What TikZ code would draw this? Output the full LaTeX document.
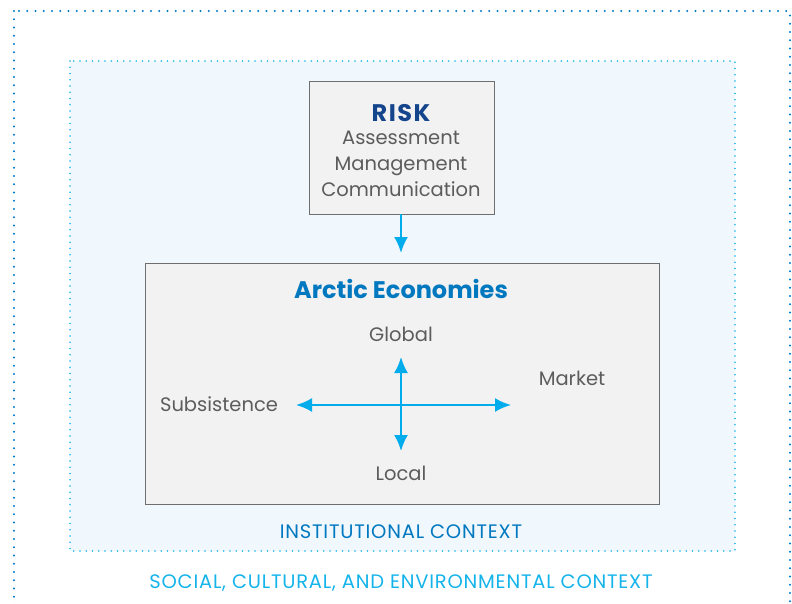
\documentclass[tikz,border=0pt]{standalone}
\usepackage{fontspec}
\usetikzlibrary{arrows.meta}
\setmainfont{Poppins}
\begin{document}
\begin{tikzpicture}[x=1pt, y=-1pt, font=\fontsize{19.5}{22}\selectfont,
  txt/.style={text=textgray, inner sep=1pt, text height=15.5pt, text depth=2pt},
  capstxt/.style={font=\fontsize{19.5}{22}\selectfont\addfontfeature{LetterSpace=4}},
  title/.style={font=\fontsize{24}{28}\selectfont\bfseries},
  cross/.style={draw=arrowblue, line width=2.2pt, -{Latex[length=16pt,width=14pt]}}]
\definecolor{textgray}{RGB}{92,92,92}
\definecolor{boxgray}{RGB}{242,242,242}
\definecolor{linegray}{RGB}{110,110,110}
\definecolor{arrowblue}{RGB}{0,172,236}
\definecolor{darkdot}{RGB}{0,120,200}
\definecolor{lightdot}{RGB}{20,180,235}
\definecolor{inst}{RGB}{240,247,253}
\definecolor{riskblue}{RGB}{20,68,140}
\definecolor{titleblue}{RGB}{0,120,192}
\useasboundingbox (0,0) rectangle (792,604);
% outer and institutional frames
\draw [darkdot, line width=2.2pt, line cap=round, dash pattern=on 0pt off 8.25pt] (14,11) rectangle (790,640);
\draw [lightdot, fill=inst, line width=1.8pt, line cap=round, dash pattern=on 0pt off 6.25pt] (70,61) rectangle (735,551);
\node (social) [text=lightdot, capstxt] at (401,583) {SOCIAL, CULTURAL, AND ENVIRONMENTAL CONTEXT};
\node (inst) [text=titleblue, capstxt] at (401,532) {INSTITUTIONAL CONTEXT};
% risk box
\draw [fill=boxgray, draw=linegray] (309,81) rectangle (494,214);
\node (risk) [text=riskblue, title] at (401,113) {\addfontfeature{LetterSpace=6}RISK};
\node (assess) [txt] at (401,138) {Assessment};
\node (manage) [txt] at (401,164) {Management};
\node (comm) [txt] at (401,190) {Communication};
\coordinate (riskbot) at (401,214);
\coordinate (econtop) at (401,253);
\draw [cross] (riskbot) -- (econtop);
% economies box
\draw [fill=boxgray, draw=linegray] (145,263) rectangle (659,504);
\node (econ) [text=titleblue, title] at (401,289) {Arctic Economies};
\node (global) [txt] at (401,335) {Global};
\node (local) [txt] at (401,474) {Local};
\node (subs) [txt] at (219,405) {Subsistence};
\node (market) [txt] at (572,379) {Market};
\coordinate (centre) at (401,405);
\coordinate (left) at (296,405);
\coordinate (right) at (511,405);
\coordinate (up) at (401,357);
\coordinate (down) at (401,451);
\foreach \e in {left,right,up,down}
  \draw [cross] (centre) -- (\e);
\end{tikzpicture}
\end{document}
